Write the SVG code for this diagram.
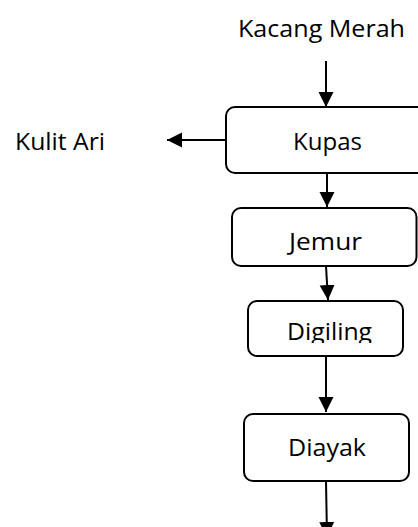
<svg xmlns="http://www.w3.org/2000/svg" width="418" height="527" viewBox="0 0 418 527">
  <defs>
    <style>
      .box { fill: #ffffff; stroke: #000000; stroke-width: 2; }
      .lbl { font-family: "Open Sans", "Liberation Sans", sans-serif; font-size: 23px; fill: #000000; }
      .edge { stroke: #000000; stroke-width: 2; fill: none; marker-end: url(#head); }
    </style>
    <marker id="head" markerUnits="userSpaceOnUse" markerWidth="16" markerHeight="16" refX="15" refY="7.5" orient="auto">
      <path d="M0,0 L15,7.5 L0,15 Z" fill="#000000"/>
    </marker>
    <clipPath id="clipDigiling">
      <rect x="249" y="302" width="153" height="41"/>
    </clipPath>
  </defs>

  <rect width="418" height="527" fill="#ffffff"/>

  <!-- connectors -->
  <g id="connectors">
    <line class="edge" x1="326" y1="61" x2="326" y2="107"/>
    <line class="edge" x1="226" y1="140" x2="167" y2="140"/>
    <line class="edge" x1="327" y1="173" x2="327" y2="207"/>
    <line class="edge" x1="326" y1="266" x2="328" y2="300"/>
    <line class="edge" x1="326" y1="356" x2="326" y2="412"/>
    <line class="edge" x1="326" y1="481" x2="327" y2="537"/>
  </g>

  <!-- input / output labels -->
  <g id="kacang-merah">
    <text class="lbl" x="238" y="36.5" textLength="167" lengthAdjust="spacingAndGlyphs">Kacang Merah</text>
  </g>
  <g id="kulit-ari">
    <text class="lbl" x="15" y="150" textLength="90" lengthAdjust="spacingAndGlyphs">Kulit Ari</text>
  </g>

  <!-- process steps -->
  <g id="kupas">
    <rect class="box" x="226" y="107" width="210" height="66" rx="9"/>
    <text class="lbl" x="293" y="150" textLength="69" lengthAdjust="spacingAndGlyphs">Kupas</text>
  </g>
  <g id="jemur">
    <rect class="box" x="232" y="208" width="184.5" height="58" rx="9"/>
    <text class="lbl" x="289" y="250" textLength="73" lengthAdjust="spacingAndGlyphs">Jemur</text>
  </g>
  <g id="digiling">
    <rect class="box" x="248" y="301" width="155" height="55" rx="9"/>
    <text class="lbl" x="287" y="340" textLength="85" lengthAdjust="spacingAndGlyphs" clip-path="url(#clipDigiling)">Digiling</text>
  </g>
  <g id="diayak">
    <rect class="box" x="244" y="414" width="165" height="67" rx="9"/>
    <text class="lbl" x="288" y="456" textLength="78" lengthAdjust="spacingAndGlyphs">Diayak</text>
  </g>
</svg>
